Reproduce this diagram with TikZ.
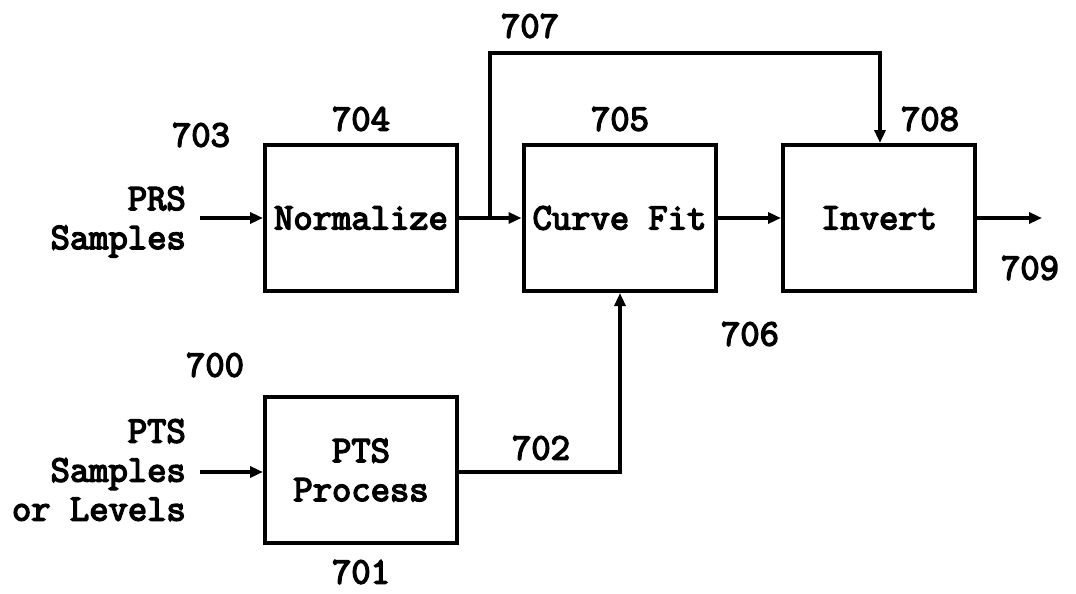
\documentclass[tikz,border=0pt]{standalone}
\usepackage{fontspec}
\newfontfamily\courfont[FakeBold=4]{Latin Modern Mono}
\usetikzlibrary{arrows.meta}
\tikzset{
  blk/.style={draw, line width=4pt, minimum width=192pt, minimum height=146pt, inner sep=0pt, align=center, font=\txt},
  lbl/.style={inner sep=0pt, font=\txt},
  arr/.style={line width=3.5pt, -{Triangle[length=13pt,width=11pt]}},
}
\newcommand{\txt}{\courfont\fontsize{37.5}{39}\selectfont}
\begin{document}
\begin{tikzpicture}[x=1pt,y=-1pt]
\useasboundingbox (0,0) rectangle (1076,594);
\node[blk] (norm) at (361,218) {Normalize};
\node[blk] (fit) at (619.5,218) {Curve Fit};
\node[blk] (inv) at (879,218) {Invert};
\node[blk] (pts) at (361,470) {PTS\\Process};
\coordinate (in1) at (200,218);
\coordinate (in2) at (200,472);
\coordinate (out) at (1042,218);
\coordinate (br) at (490,218);
% connectors
\draw[arr] (in1) -- (norm.west);
\draw[arr] (in2) -- (in2 -| pts.west);
\draw[arr] (norm.east) -- (fit.west);
\draw[arr] (fit.east) -- (inv.west);
\draw[arr] (inv.east) -- (out);
\draw[arr] (br) -- (490,53) -- (880,53) -- (inv.north -| 880,0);
\draw[arr] (pts.east |- 0,472) -- (620,472) -- (fit.south -| 620,0);
% labels
\node[lbl, align=right, anchor=east] (l1) at (186,222) {PRS\\Samples};
\node[lbl, align=right, anchor=east] (l2) at (186,470) {PTS\\Samples\\or Levels};
\node[lbl] (n707) at (530,26) {707};
\node[lbl] (n703) at (201,135) {703};
\node[lbl] (n704) at (361,119) {704};
\node[lbl] (n705) at (620,119) {705};
\node[lbl] (n708) at (930,119) {708};
\node[lbl] (n709) at (1030,268) {709};
\node[lbl] (n706) at (750,334) {706};
\node[lbl] (n700) at (215,365) {700};
\node[lbl] (n702) at (541,448) {702};
\node[lbl] (n701) at (361,572) {701};
\end{tikzpicture}
\end{document}
